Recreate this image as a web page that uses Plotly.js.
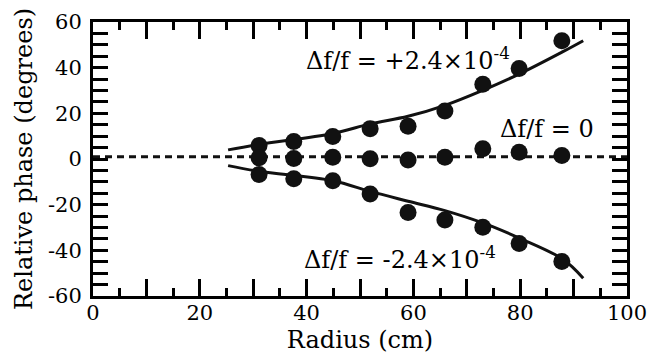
<!DOCTYPE html>
<html>
<head>
<meta charset="utf-8">
<script src="https://cdn.plot.ly/plotly-3.0.1.min.js"></script>
<style>html,body{margin:0;padding:0;background:#fff;}#chart{width:652px;height:354px;}</style>
</head>
<body>
<div id="chart"></div>
<script>
// Data
const radius = [31.1, 37.6, 44.9, 51.9, 59.0, 65.9, 73.0, 79.8, 87.8];
const phasePlus = [5.9, 7.7, 9.9, 13.3, 14.3, 21.0, 32.7, 39.6, 51.8];
const phaseZero = [0.5, 0.2, 0.8, 0.1, -0.4, 0.8, 4.5, 3.0, 1.5];
const phaseMinus = [-6.8, -8.6, -9.5, -15.3, -23.4, -26.7, -29.9, -37.0, -44.9];

const fitRadius = [25.3, 31.1, 44.9, 51.9, 59.0, 65.9, 73.0, 79.8, 88.0, 91.8];
const fitPlus = [4.0, 6.4, 11.2, 15.4, 18.7, 23.5, 30.1, 37.2, 47.0, 51.8];
const fitMinus = [-2.9, -5.4, -9.5, -14.2, -18.5, -22.6, -28.0, -34.6, -43.9, -52.2];

const zeroLineX = [0, 100];
const zeroLineY = [1.0, 1.0];

const xTickVals = [0, 10, 20, 30, 40, 50, 60, 70, 80, 90, 100];
const xTickText = ['0', '', '20', '', '40', '', '60', '', '80', '', '100'];
const xMinorVals = [5, 15, 25, 35, 45, 55, 65, 75, 85, 95];
const yTickVals = [-60,-55,-50,-45,-40,-35,-30,-25,-20,-15,-10,-5,0,5,10,15,20,25,30,35,40,45,50,55,60];
const yTickText = yTickVals.map(v => (v % 20 === 0 ? String(v) : ''));

const labels = [
  {text: 'Δf/f = +2.4×10<sup>-4</sup>', x: 59.0, y: 44.0},
  {text: 'Δf/f = 0', x: 85.0, y: 13.0},
  {text: 'Δf/f = -2.4×10<sup>-4</sup>', x: 57.5, y: -43.5}
];

const FONT = 'DejaVu Serif';
const markerStyle = {color: '#111', size: 17, symbol: 'circle'};

const traces = [
  {x: zeroLineX, y: zeroLineY, mode: 'lines', line: {color: '#111', width: 3, dash: '7px,5px'}, hoverinfo: 'skip'},
  {x: fitRadius, y: fitPlus, mode: 'lines', line: {color: '#111', width: 3, shape: 'spline'}},
  {x: fitRadius, y: fitMinus, mode: 'lines', line: {color: '#111', width: 3, shape: 'spline'}},
  {x: radius, y: phasePlus, mode: 'markers', marker: markerStyle},
  {x: radius, y: phaseZero, mode: 'markers', marker: markerStyle},
  {x: radius, y: phaseMinus, mode: 'markers', marker: markerStyle}
];

const axisCommon = {
  showgrid: false, zeroline: false, showline: true, linecolor: '#000', linewidth: 3,
  mirror: 'ticks', ticks: 'inside', tickcolor: '#000', tickwidth: 3,
  tickfont: {family: FONT, size: 21, color: '#000'}, tickmode: 'array'
};

const layout = {
  width: 652, height: 354,
  margin: {l: 93, r: 25, t: 22, b: 58},
  paper_bgcolor: '#fff', plot_bgcolor: '#fff',
  showlegend: false,
  font: {family: FONT, color: '#000'},
  xaxis: Object.assign({}, axisCommon, {
    range: [0, 100], tickvals: xTickVals, ticktext: xTickText, ticklen: 17,
    ticklabelstandoff: -4,
    minor: {tickmode: 'array', tickvals: xMinorVals, ticks: 'inside', ticklen: 8, tickwidth: 3, tickcolor: '#000', showgrid: false},
    title: {text: 'Radius (cm)', font: {family: FONT, size: 24, color: '#000'}, standoff: -2}
  }),
  yaxis: Object.assign({}, axisCommon, {
    range: [-60, 60], tickvals: yTickVals, ticktext: yTickText, ticklen: 15,
    ticklabelstandoff: 4,
    title: {text: 'Relative phase (degrees)', font: {family: FONT, size: 24, color: '#000'}, standoff: 9}
  }),
  annotations: labels.map(l => ({
    text: l.text, x: l.x, y: l.y, xref: 'x', yref: 'y', showarrow: false,
    font: {family: FONT, size: 24, color: '#000'}
  }))
};

Plotly.newPlot('chart', traces, layout, {staticPlot: true, displayModeBar: false});
</script>
</body>
</html>
